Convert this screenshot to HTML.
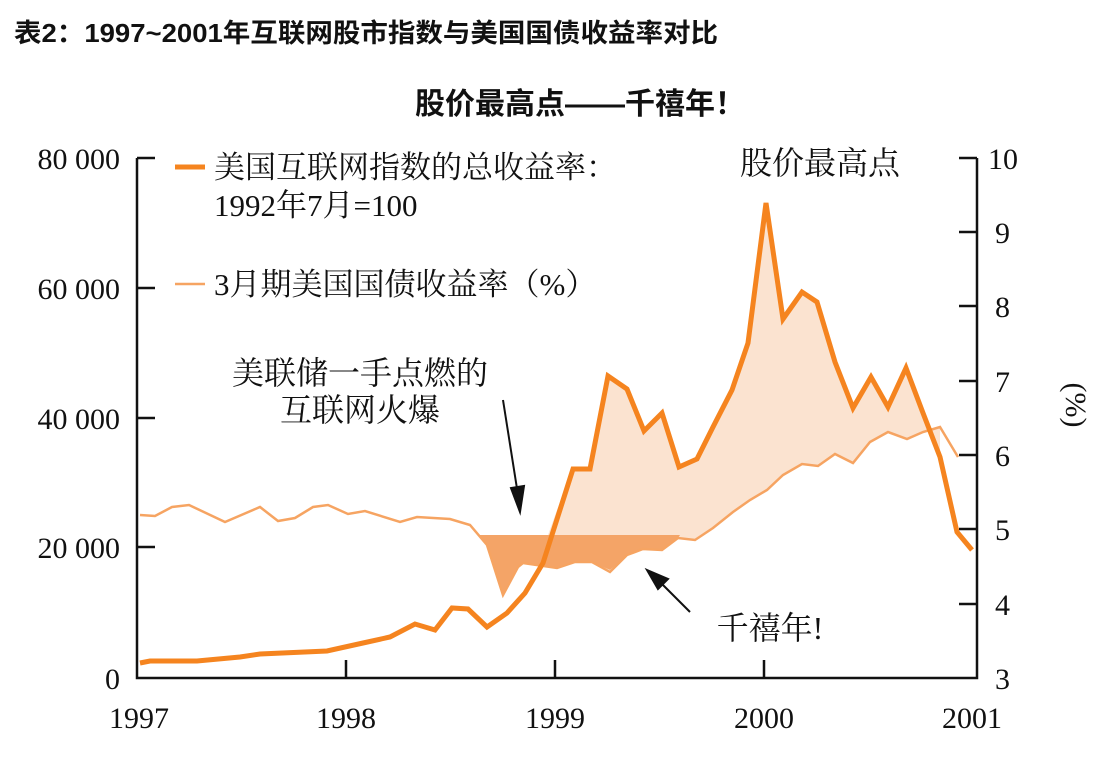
<!DOCTYPE html>
<html><head><meta charset="utf-8"><style>
body{margin:0;background:#fff;}
svg{display:block;}
.s{font-family:"Liberation Serif","Noto Serif CJK SC",serif;fill:#111;}
</style></head><body>
<svg width="1103" height="765" viewBox="0 0 1103 765">
<text x="14" y="42" font-family="Liberation Sans,Noto Sans CJK SC,sans-serif" font-weight="bold" font-size="26" fill="#111" textLength="704" lengthAdjust="spacingAndGlyphs">表2：1997~2001年互联网股市指数与美国国债收益率对比</text>
<text x="580" y="114" text-anchor="middle" font-family="Liberation Sans,Noto Sans CJK SC,sans-serif" font-weight="bold" font-size="30" fill="#111">股价最高点——千禧年！</text>

<polygon fill="#fbe3d0" points="548,535 557,510 573,469 590,469 608,376 627,389 644,431 662,413 679,467 697,459 713,427 732,390 748,343 766,203 783,319 802,292 817,302 835,362 853,408 871,377 888,407 906,368 923,413 940,457 940,427 923,432 907,439 888,432 870,442 853,463 835,454 818,466 802,464 783,475 767,490 750,500 733,512 713,528 695,540 678,538 678,535"/>
<polygon fill="#f4a467" points="478,535 680,535 678,538 662,550 643,549 627,555 610,570 592,562 575,562 557,568 523,563 518,567 503,595 487,545"/>

<polyline fill="none" stroke="#f6a462" stroke-width="2.5" points="140,515 155,516 172,507 189,505 225,522 260,507 278,521 295,518 313,507 328,505 348,514 365,511 400,522 417,517 450,519 470,525 487,545 503,595 518,567 523,563 557,568 575,562 592,562 610,572 627,555 643,549 662,550 678,538 695,540 713,528 733,512 750,500 767,490 783,475 802,464 818,466 835,454 853,463 870,442 888,432 907,439 923,432 940,427 958,457"/>
<polyline fill="none" stroke="#f5841f" stroke-width="5" points="140,663 150,661 197,661 240,657 260,654 327,651 363,643 390,637 415,624 435,630 452,608 468,609 487,627 507,613 525,593 543,563 573,469 590,469 608,376 627,389 644,431 662,413 679,467 697,459 713,427 732,390 748,343 766,203 783,319 802,292 817,302 835,362 853,408 871,377 888,407 906,368 923,413 940,457 957,532 972,550"/>

<g stroke="#111" stroke-width="2.5" fill="none">
<path d="M137,158 V678 H977 V158"/>
<path d="M137,158h18M137,288h18M137,418h18M137,547h18"/>
<path d="M346,678v-18M555,678v-18M764,678v-18"/>
<path d="M977,232h-18M977,306h-18M977,381h-18M977,455h-18M977,529h-18M977,604h-18M977,158h-18"/>
</g>
<g class="s" font-size="30" text-anchor="end">
<text x="120" y="169">80 000</text><text x="120" y="299">60 000</text><text x="120" y="429">40 000</text><text x="120" y="558">20 000</text><text x="120" y="689">0</text>
</g>
<g class="s" font-size="30">
<text x="988" y="169">10</text><text x="995" y="243">9</text><text x="995" y="317">8</text><text x="995" y="392">7</text><text x="995" y="466">6</text><text x="995" y="540">5</text><text x="995" y="615">4</text><text x="995" y="689">3</text>
</g>
<g class="s" font-size="30" text-anchor="middle">
<text x="139" y="728">1997</text><text x="346" y="728">1998</text><text x="555" y="728">1999</text><text x="764" y="728">2000</text><text x="972" y="728">2001</text>
</g>
<text class="s" font-size="30" transform="translate(1066,405) rotate(90)" text-anchor="middle">(%)</text>

<line x1="175" y1="167" x2="205" y2="167" stroke="#f5841f" stroke-width="5"/>
<text class="s" x="214" y="178" font-size="31">美国互联网指数的总收益率：</text>
<text class="s" x="214" y="216" font-size="31">1992年7月=100</text>
<line x1="175" y1="284" x2="205" y2="284" stroke="#f6a462" stroke-width="2.5"/>
<text class="s" x="214" y="295" font-size="31">3月期美国国债收益率（%）</text>

<text class="s" x="820" y="174" font-size="32" text-anchor="middle">股价最高点</text>
<text class="s" x="360" y="384" font-size="32" text-anchor="middle">美联储一手点燃的</text>
<text class="s" x="360" y="421" font-size="32" text-anchor="middle">互联网火爆</text>
<text class="s" x="770" y="639" font-size="32" text-anchor="middle">千禧年!</text>

<g stroke="#111" stroke-width="2" fill="#111">
<line x1="503" y1="400" x2="518" y2="495"/>
<polygon points="520,512 511,488 524,486"/>
<line x1="690" y1="612" x2="660" y2="582"/>
<polygon points="647,570 668,579 658,589"/>
</g>
</svg>
</body></html>
